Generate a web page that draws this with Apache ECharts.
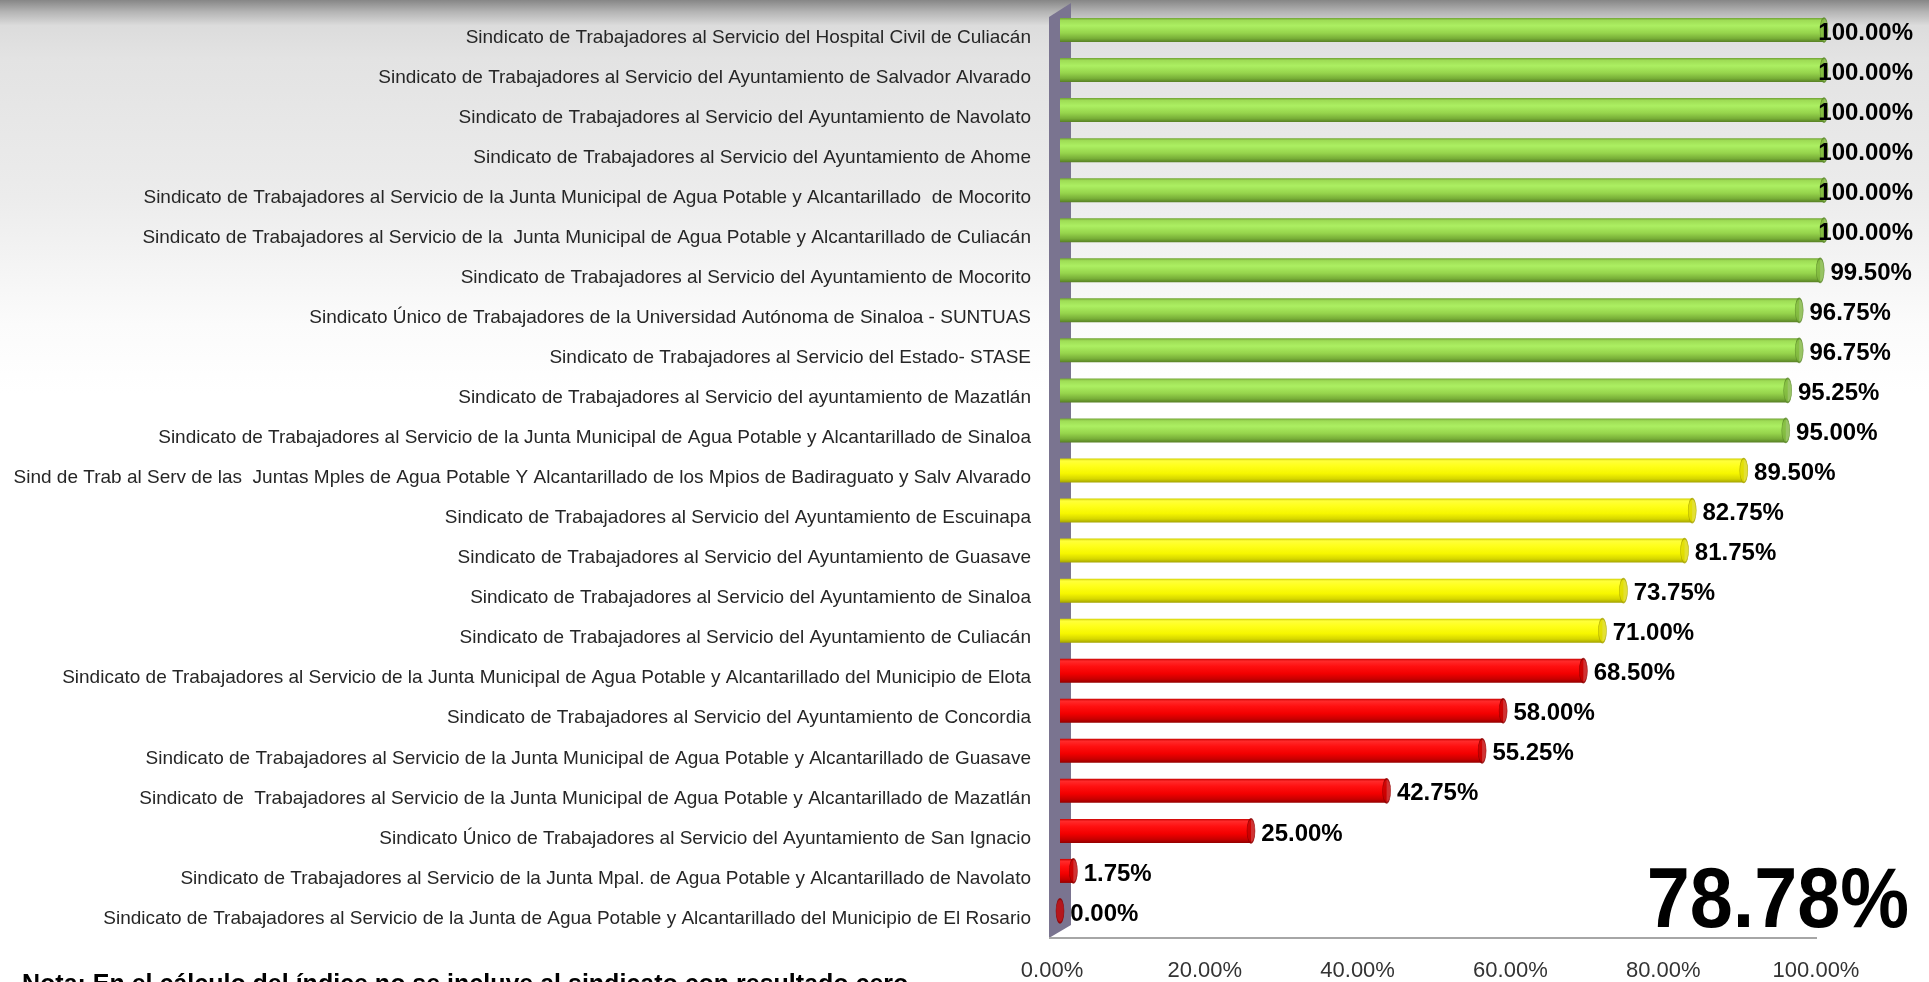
<!DOCTYPE html>
<html lang="es">
  <head>
    <meta charset="utf-8" />
    <title>Índice por sindicato</title>
    <script type="text/javascript" src="https://cdn.jsdelivr.net/npm/echarts@6/dist/echarts.min.js"></script>
    <style>
      html, body { margin: 0; padding: 0; background: #fff; }
      #chart { width: 1929px; height: 982px; }
    </style>
  </head>
  <body>
    <div id="chart"></div>
    <script>
      // datos (de arriba hacia abajo)
      var categorias = [
        'Sindicato de Trabajadores al Servicio del Hospital Civil de Culiacán',
        'Sindicato de Trabajadores al Servicio del Ayuntamiento de Salvador Alvarado',
        'Sindicato de Trabajadores al Servicio del Ayuntamiento de Navolato',
        'Sindicato de Trabajadores al Servicio del Ayuntamiento de Ahome',
        'Sindicato de Trabajadores al Servicio de la Junta Municipal de Agua Potable y Alcantarillado  de Mocorito',
        'Sindicato de Trabajadores al Servicio de la  Junta Municipal de Agua Potable y Alcantarillado de Culiacán',
        'Sindicato de Trabajadores al Servicio del Ayuntamiento de Mocorito',
        'Sindicato Único de Trabajadores de la Universidad Autónoma de Sinaloa - SUNTUAS',
        'Sindicato de Trabajadores al Servicio del Estado- STASE',
        'Sindicato de Trabajadores al Servicio del ayuntamiento de Mazatlán',
        'Sindicato de Trabajadores al Servicio de la Junta Municipal de Agua Potable y Alcantarillado de Sinaloa',
        'Sind de Trab al Serv de las  Juntas Mples de Agua Potable Y Alcantarillado de los Mpios de Badiraguato y Salv Alvarado',
        'Sindicato de Trabajadores al Servicio del Ayuntamiento de Escuinapa',
        'Sindicato de Trabajadores al Servicio del Ayuntamiento de Guasave',
        'Sindicato de Trabajadores al Servicio del Ayuntamiento de Sinaloa',
        'Sindicato de Trabajadores al Servicio del Ayuntamiento de Culiacán',
        'Sindicato de Trabajadores al Servicio de la Junta Municipal de Agua Potable y Alcantarillado del Municipio de Elota',
        'Sindicato de Trabajadores al Servicio del Ayuntamiento de Concordia',
        'Sindicato de Trabajadores al Servicio de la Junta Municipal de Agua Potable y Alcantarillado de Guasave',
        'Sindicato de  Trabajadores al Servicio de la Junta Municipal de Agua Potable y Alcantarillado de Mazatlán',
        'Sindicato Único de Trabajadores al Servicio del Ayuntamiento de San Ignacio',
        'Sindicato de Trabajadores al Servicio de la Junta Mpal. de Agua Potable y Alcantarillado de Navolato',
        'Sindicato de Trabajadores al Servicio de la Junta de Agua Potable y Alcantarillado del Municipio de El Rosario'
      ]
      var valores = [100, 100, 100, 100, 100, 100, 99.5, 96.75, 96.75, 95.25, 95, 89.5, 82.75, 81.75, 73.75, 71, 68.5, 58, 55.25, 42.75, 25, 1.75, 0]
      var ejeMin = 0, ejeMax = 100, ejeIntervalo = 20
      var indiceGeneral = 78.78
      var nota = 'Nota: En el cálculo del índice no se incluye al sindicato con resultado cero'

      var FONT = '"Liberation Sans", Arial, sans-serif'
      var G = { left: 1060, top: 10, width: 764, height: 921 }

      // color por rango de cumplimiento
      function nivel (v) {
        if (v >= 90) return 'verde'
        if (v >= 70) return 'amarillo'
        return 'rojo'
      }
      var estilos = {
        verde: {
          cuerpo: [['0', '#72a336'], ['0.1', '#9edc55'], ['0.32', '#acef62'], ['0.62', '#96d44c'], ['0.85', '#78ae38'], ['1', '#577f24']],
          tapa: '#7fb63f', borde: '#5b8829'
        },
        amarillo: {
          cuerpo: [['0', '#cfcf00'], ['0.1', '#ffff3a'], ['0.32', '#ffff1a'], ['0.62', '#f6f600'], ['0.85', '#d6d600'], ['1', '#a3a300']],
          tapa: '#dcd800', borde: '#a8a400'
        },
        rojo: {
          cuerpo: [['0', '#c80000'], ['0.1', '#ff2a2a'], ['0.32', '#ff1010'], ['0.62', '#f20000'], ['0.85', '#c80000'], ['1', '#940000']],
          tapa: '#c40000', borde: '#8c0000'
        }
      }
      function degradado (paradas) {
        return new echarts.graphic.LinearGradient(0, 0, 0, 1, paradas.map(function (p) {
          return { offset: +p[0], color: p[1] }
        }))
      }

      var barras = valores.map(function (v) {
        return { value: v, itemStyle: { color: degradado(estilos[nivel(v)].cuerpo) } }
      })
      // tapas del cilindro, llevan la etiqueta para que quede encima
      var tapas = valores.map(function (v) {
        var e = estilos[nivel(v)]
        return {
          value: v,
          itemStyle: { color: e.tapa, borderColor: e.borde, borderWidth: 1 },
          label: { offset: [v >= 100 ? -16 : 0, 3] }
        }
      })

      var chart = echarts.init(document.getElementById('chart'), null, { renderer: 'canvas' })
      chart.setOption({
        animation: false,
        backgroundColor: 'transparent',
        grid: { left: G.left, top: G.top, width: G.width, height: G.height, containLabel: false },
        xAxis: {
          type: 'value', min: ejeMin, max: ejeMax, interval: ejeIntervalo,
          axisLine: { show: false }, axisTick: { show: false }, splitLine: { show: false },
          axisLabel: {
            margin: 29, padding: [0, 16, 0, 0],
            fontFamily: FONT, fontSize: 22, color: '#333',
            formatter: function (v) { return v.toFixed(2) + '%' }
          }
        },
        yAxis: {
          type: 'category', data: categorias, inverse: true,
          axisLine: { show: false }, axisTick: { show: false }, splitLine: { show: false },
          axisLabel: {
            margin: 29, interval: 0,
            formatter: function (v) { return '{c|' + v + '}' },
            rich: {
              c: { fontFamily: FONT, fontSize: 19, color: '#262626', padding: [15, 0, 0, 0] }
            }
          }
        },
        series: [
          {
            type: 'bar', data: barras, barWidth: 24, z: 3
          },
          {
            type: 'scatter', data: tapas, symbol: 'circle', symbolSize: [8, 24], z: 4,
            silent: true,
            label: {
              show: true, position: 'right', distance: 6,
              fontFamily: FONT, fontSize: 24, fontWeight: 'bold', color: '#000',
              textBorderWidth: 0, opacity: 1,
              formatter: function (p) { return p.value.toFixed(2) + '%' }
            }
          }
        ],
        graphic: [
          {
            type: 'rect', z: -10, silent: true,
            shape: { x: 0, y: 0, width: 1929, height: 982 },
            style: {
              fill: new echarts.graphic.LinearGradient(0, 0, 0, 1, [
                { offset: 0, color: '#868686' },
                { offset: 0.012, color: '#b4b4b4' },
                { offset: 0.026, color: '#dcdcdc' },
                { offset: 0.06, color: '#e3e3e3' },
                { offset: 0.2, color: '#ececec' },
                { offset: 0.33, color: '#fbfbfb' },
                { offset: 0.4, color: '#ffffff' },
                { offset: 1, color: '#ffffff' }
              ])
            }
          },
          {
            // pared lateral del grafico 3D
            type: 'polygon', z: 0, silent: true,
            shape: { points: [[1049, 17], [1071, 3], [1071, 925], [1049, 938]] },
            style: { fill: '#7a7490' }
          },
          {
            type: 'line', z: 0, silent: true,
            shape: { x1: 1049, y1: 938, x2: 1817, y2: 938 },
            style: { stroke: '#a6a6a6', lineWidth: 2 }
          },
          {
            type: 'text', z: 10, x: 1909, y: 904, scaleX: 0.91,
            style: {
              text: indiceGeneral.toFixed(2) + '%',
              font: 'bold 85px ' + FONT, fill: '#000',
              textAlign: 'right', textVerticalAlign: 'middle'
            }
          },
          {
            type: 'text', z: 10, x: 22, y: 985,
            style: {
              text: nota,
              font: 'bold 25px ' + FONT, fill: '#000',
              textAlign: 'left', textVerticalAlign: 'middle'
            }
          }
        ]
      })
    </script>
  </body>
</html>
